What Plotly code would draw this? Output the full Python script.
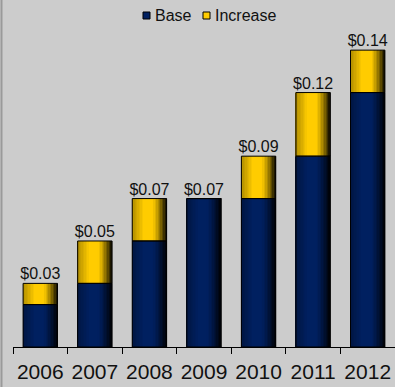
import plotly.graph_objects as go

years = ["2006", "2007", "2008", "2009", "2010", "2011", "2012"]
base = [0.02, 0.03, 0.05, 0.07, 0.07, 0.09, 0.12]
increase = [0.01, 0.02, 0.02, 0.00, 0.02, 0.03, 0.02]
totals = [b + i for b, i in zip(base, increase)]
labels = ["$0.03", "$0.05", "$0.07", "$0.07", "$0.09", "$0.12", "$0.14"]
series_names = ["Base", "Increase"]

NAVY = (0, 32, 96)
GOLD = (255, 204, 0)
BG = "#cccccc"
FONT = "Liberation Sans, Arial"
BAR_W = 0.63
STRIPS = 24

W, H = 395, 387
ML, MR, MT, MB = 13, 0, 30, 40
PW, PH = W - ML - MR, H - MT - MB


def shade(rgb, t):
    # cylinder-like shading: slightly dark at left, bright centre, black at right
    if t < 0.35:
        k = 0.68 + 0.32 * (t / 0.35)
    elif t < 0.6:
        k = 1.0
    else:
        k = 1.0 - 0.95 * ((t - 0.6) / 0.4) ** 1.3
    r, g, b = (max(0, min(255, int(c * k))) for c in rgb)
    return f"rgb({r},{g},{b})"


fig = go.Figure()

strip_w = BAR_W / STRIPS
for seg_y, seg_base, rgb in ((base, None, NAVY), (increase, base, GOLD)):
    for s in range(STRIPS):
        t = (s + 0.5) / STRIPS
        fig.add_trace(go.Bar(
            x=years, y=seg_y, base=seg_base,
            width=strip_w * 1.05, offset=-BAR_W / 2 + s * strip_w,
            marker=dict(color=shade(rgb, t), line=dict(width=0)),
            showlegend=False, hoverinfo="skip",
        ))

# outlines of each segment
for seg_y, seg_base in ((base, None), (increase, base)):
    fig.add_trace(go.Bar(
        x=years, y=seg_y, base=seg_base, width=BAR_W, offset=-BAR_W / 2,
        marker=dict(color="rgba(0,0,0,0)", line=dict(color="#000000", width=1)),
        showlegend=False, hoverinfo="skip",
    ))

fig.add_trace(go.Scatter(
    x=years, y=totals, mode="text", text=labels, textposition="top center",
    textfont=dict(family=FONT, size=16, color="#111111"),
    showlegend=False, hoverinfo="skip",
))

# legend drawn as small outlined squares with text next to them
def px_x(p):
    return (p - ML) / PW


def px_y(p):
    return (H - MB - p) / PH


legend_items = [(series_names[0], NAVY, 143), (series_names[1], GOLD, 203)]
for name, rgb, left in legend_items:
    fig.add_shape(type="rect", xref="paper", yref="paper",
                  x0=px_x(left), x1=px_x(left + 7), y0=px_y(19), y1=px_y(12),
                  fillcolor=f"rgb{rgb}", line=dict(color="#000000", width=1))
    fig.add_annotation(xref="paper", yref="paper", x=px_x(left + 10), y=px_y(15.5),
                       xanchor="left", yanchor="middle", showarrow=False, text=name,
                       font=dict(family=FONT, size=16, color="#111111"))

fig.add_shape(type="line", xref="paper", yref="paper",
              x0=px_x(1.5), x1=px_x(1.5), y0=px_y(H + 5), y1=px_y(-5),
              line=dict(color="#9a9a9a", width=2))

fig.update_layout(
    width=W, height=H,
    margin=dict(l=ML, r=MR, t=MT, b=MB),
    paper_bgcolor=BG, plot_bgcolor=BG,
    barmode="overlay", bargap=0.37,
    font=dict(family=FONT, color="#111111"),
    showlegend=False,
    xaxis=dict(showline=True, linecolor="#000000", linewidth=1,
               ticks="outside", tickson="boundaries", ticklen=6, tickcolor="#000000",
               ticklabelstandoff=6, tickangle=0, automargin=False,
               tickfont=dict(size=21, color="#111111"), showgrid=False, fixedrange=True),
    yaxis=dict(range=[0, 0.1495], visible=False, showgrid=False, fixedrange=True),
)

fig.write_html("out.html")
